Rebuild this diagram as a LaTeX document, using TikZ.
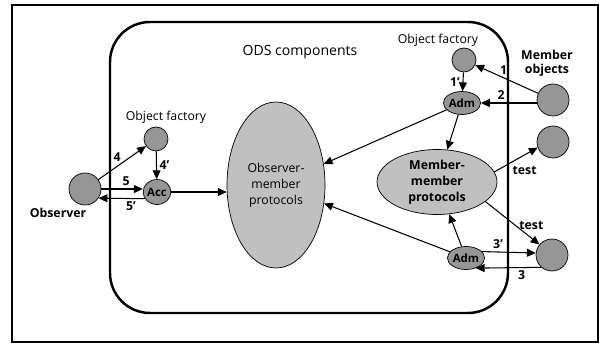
\documentclass[tikz,border=0pt]{standalone}
\usepackage{fontspec}
\setmainfont{Open Sans}
\usepackage{xcolor}
\usepackage{tikz}
\usetikzlibrary{arrows.meta,shapes.geometric}

\definecolor{objgray}{RGB}{150,150,150}
\definecolor{protogray}{RGB}{192,192,192}

\begin{document}
\begin{tikzpicture}[x=0.02cm, y=-0.02cm,
			obj/.style={circle, draw=black, fill=objgray, minimum size=0.64cm, inner sep=0pt},
			factory/.style={circle, draw=black, fill=objgray, minimum size=0.48cm, inner sep=0pt},
			agent/.style={ellipse, draw=black, fill=objgray, minimum width=0.56cm, minimum height=0.46cm, inner sep=0pt, font=\fontsize{6.5}{7}\selectfont\bfseries},
			proto/.style={ellipse, draw=black, fill=protogray, align=center, inner sep=0pt},
			lbl/.style={font=\fontsize{7}{8}\selectfont\bfseries, inner sep=1.5pt},
			edge/.style={-{Triangle[length=5pt, width=4.5pt]}, semithick}
		]
		\useasboundingbox (0,0) rectangle (599,344);
		\draw[line width=0.9pt] (12,5) rectangle (598,342);
		\draw[line width=1.4pt, rounded corners=0.8cm] (110,22) rectangle (508,313);
		\node[font=\fontsize{8}{9}\selectfont] (title) at (300,52) {ODS components};

		% observer side
		\node[obj] (obs) at (85,189) {};
		\node[lbl] (obsl) at (58,213) {Observer};
		\node[factory] (fac1) at (156,139) {};
		\node[font=\fontsize{7}{8}\selectfont] (fac1l) at (166,117) {Object factory};
		\node[agent, minimum width=0.5cm, minimum height=0.5cm] (acc) at (157,192) {Acc};
		\node[proto, minimum width=1.96cm, minimum height=3.32cm, font=\fontsize{7}{9}\selectfont] (om) at (276,185) {Observer-\\member\\protocols};

		% member side
		\node[factory] (fac2) at (464,60) {};
		\node[font=\fontsize{7}{8}\selectfont] (fac2l) at (438,40) {Object factory};
		\node[agent] (adm1) at (462,103) {Adm};
		\node[obj] (mem) at (553,100) {};
		\node[lbl, align=center] (meml) at (547,63) {Member\\objects};
		\node[obj] (tc1) at (553,142) {};
		\node[proto, minimum width=2.4cm, minimum height=1.3cm, font=\fontsize{7}{9}\selectfont\bfseries] (mm) at (437,182) {Member-\\member\\protocols};
		\node[agent] (adm2) at (466,258) {Adm};
		\node[obj] (tc2) at (552,255) {};

		\draw[edge] (obs) -- (fac1) node[midway, above left=-1pt, lbl] {4};
		\draw[edge] (fac1) -- (acc) node[midway, right, lbl] {4'};
		\draw[edge] (obs.east) -- (acc.west |- obs.east) node[pos=.6, above, lbl] {5};
		\draw[edge] (acc.209) -- (obs.-34) node[pos=.3, below, lbl] {5'};
		\draw[edge] (acc.east) -- (acc.east -| om.west);

		\draw[edge] (mem) -- (fac2) node[pos=.55, above, lbl] {1};
		\draw[edge] (adm1.east -| mem.west) -- (adm1.east) node[pos=.64, above, lbl] {2};
		\draw[edge] (fac2) -- (adm1) node[midway, left, lbl] {1'};
		\draw[edge] (adm1) -- (om);
		\draw[edge] (adm1) -- (mm);
		\draw[edge] (mm.10) -- (tc1.200) node[pos=.7, below=5pt, lbl] {test};
		\draw[edge] (mm.-22) -- (tc2.140) node[pos=.85, above=3pt, lbl] {test};
		\draw[edge] (adm2) -- (mm);
		\draw[edge] (adm2) -- (om);
		\draw[edge] (adm2.22) -- (tc2.173) node[pos=.3, above, lbl] {3'};
		\draw[edge] (tc2.229) -- (adm2.-46) node[pos=.3, below, lbl] {3};
\end{tikzpicture}
\end{document}
